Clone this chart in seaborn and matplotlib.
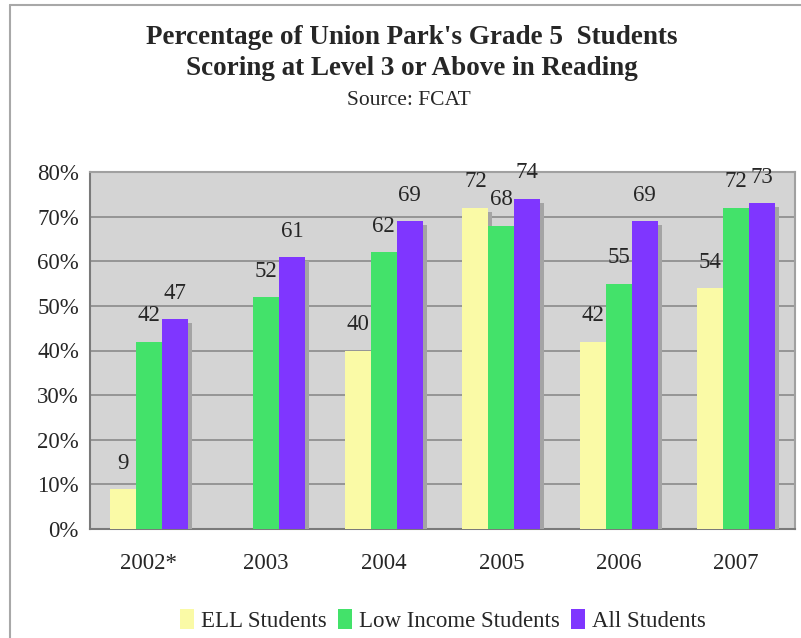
import numpy as np
import pandas as pd
import matplotlib
matplotlib.use("Agg")
import matplotlib.pyplot as plt
import matplotlib.patheffects as pe
from matplotlib.lines import Line2D
from matplotlib.patches import Patch
from matplotlib.ticker import FixedLocator, PercentFormatter
import seaborn as sns

# data
years = ["2002*", "2003", "2004", "2005", "2006", "2007"]
groups = ["ELL Students", "Low Income Students", "All Students"]
ell = [9, np.nan, 40, 72, 42, 54]
low_income = [42, 52, 62, 68, 55, 72]
all_students = [47, 61, 69, 74, 69, 73]
colors = ["#fafaa6", "#43e26a", "#7f36ff"]

df = pd.DataFrame({"year": years * 3,
                   "group": np.repeat(groups, len(years)),
                   "pct": ell + low_income + all_students})

sns.set_style("white")
plt.rcParams["font.family"] = ["Liberation Serif", "DejaVu Serif"]

fig = plt.figure(figsize=(8.01, 6.38), dpi=100)
ax = fig.add_axes([90/801, 1-529/638, 705/801, 357/638])
ax.set_facecolor("#d4d4d4")

sns.barplot(data=df.dropna(), x="year", y="pct", hue="group", order=years,
            hue_order=groups, palette=colors, width=0.66, linewidth=0,
            saturation=1, ax=ax, legend=False, zorder=3)

# drop shadows + value labels
for cont in ax.containers:
    for bar in cont:
        bar.set_path_effects([pe.SimplePatchShadow(offset=(3, -3), shadow_rgbFace="#a4a4a4", alpha=1),
                              pe.Normal()])
    ax.bar_label(cont, fmt="%.0f", padding=11, fontsize=16.5)

ax.set_ylim(0, 80)
ax.set_xlim(-0.5, 5.5)
ax.set_yticks(range(0, 81, 10))
ax.yaxis.set_major_formatter(PercentFormatter(decimals=0))
ax.yaxis.grid(True, color="#8a8a8a", linewidth=1.2, zorder=0)
ax.set_axisbelow(True)
ax.set_xlabel("")
ax.set_ylabel("")

ax.xaxis.set_minor_locator(FixedLocator(np.arange(0.5, 5.0, 1)))
ax.tick_params(axis="x", which="major", length=0, pad=17, labelsize=16.5)
ax.tick_params(axis="x", which="minor", length=6, color="#808080", width=1)
ax.tick_params(axis="y", length=6, color="#808080", width=1, labelsize=16.5, pad=2)

for side in ["left", "bottom"]:
    ax.spines[side].set_color("#7a7a7a")
    ax.spines[side].set_linewidth(1.5)
for side in ["top", "right"]:
    ax.spines[side].set_color("#a0a0a0")
    ax.spines[side].set_linewidth(1.5)

fig.text(0.514, 0.942, "Percentage of Union Park's Grade 5  Students", ha="center", va="center",
         fontsize=19.5, fontweight="bold")
fig.text(0.514, 0.893, "Scoring at Level 3 or Above in Reading", ha="center", va="center",
         fontsize=19.5, fontweight="bold")
fig.text(0.511, 0.843, "Source: FCAT", ha="center", va="center", fontsize=15.5)

handles = [Patch(facecolor=c, edgecolor="none") for c in colors]
fig.legend(handles, groups, loc="center", bbox_to_anchor=(0.553, 0.028), ncol=3, frameon=False,
           fontsize=16.5, handlelength=0.6, handleheight=1.0, handletextpad=0.3, columnspacing=0.5)

# outer frame of the original chart
fig.add_artist(Line2D([9.5/801, 9.5/801], [0, 1-5/638], color="#a8a8a8", lw=1.5, transform=fig.transFigure))
fig.add_artist(Line2D([9.5/801, 1], [1-5/638, 1-5/638], color="#a8a8a8", lw=1.5, transform=fig.transFigure))

fig.savefig("out.png", dpi=100)
